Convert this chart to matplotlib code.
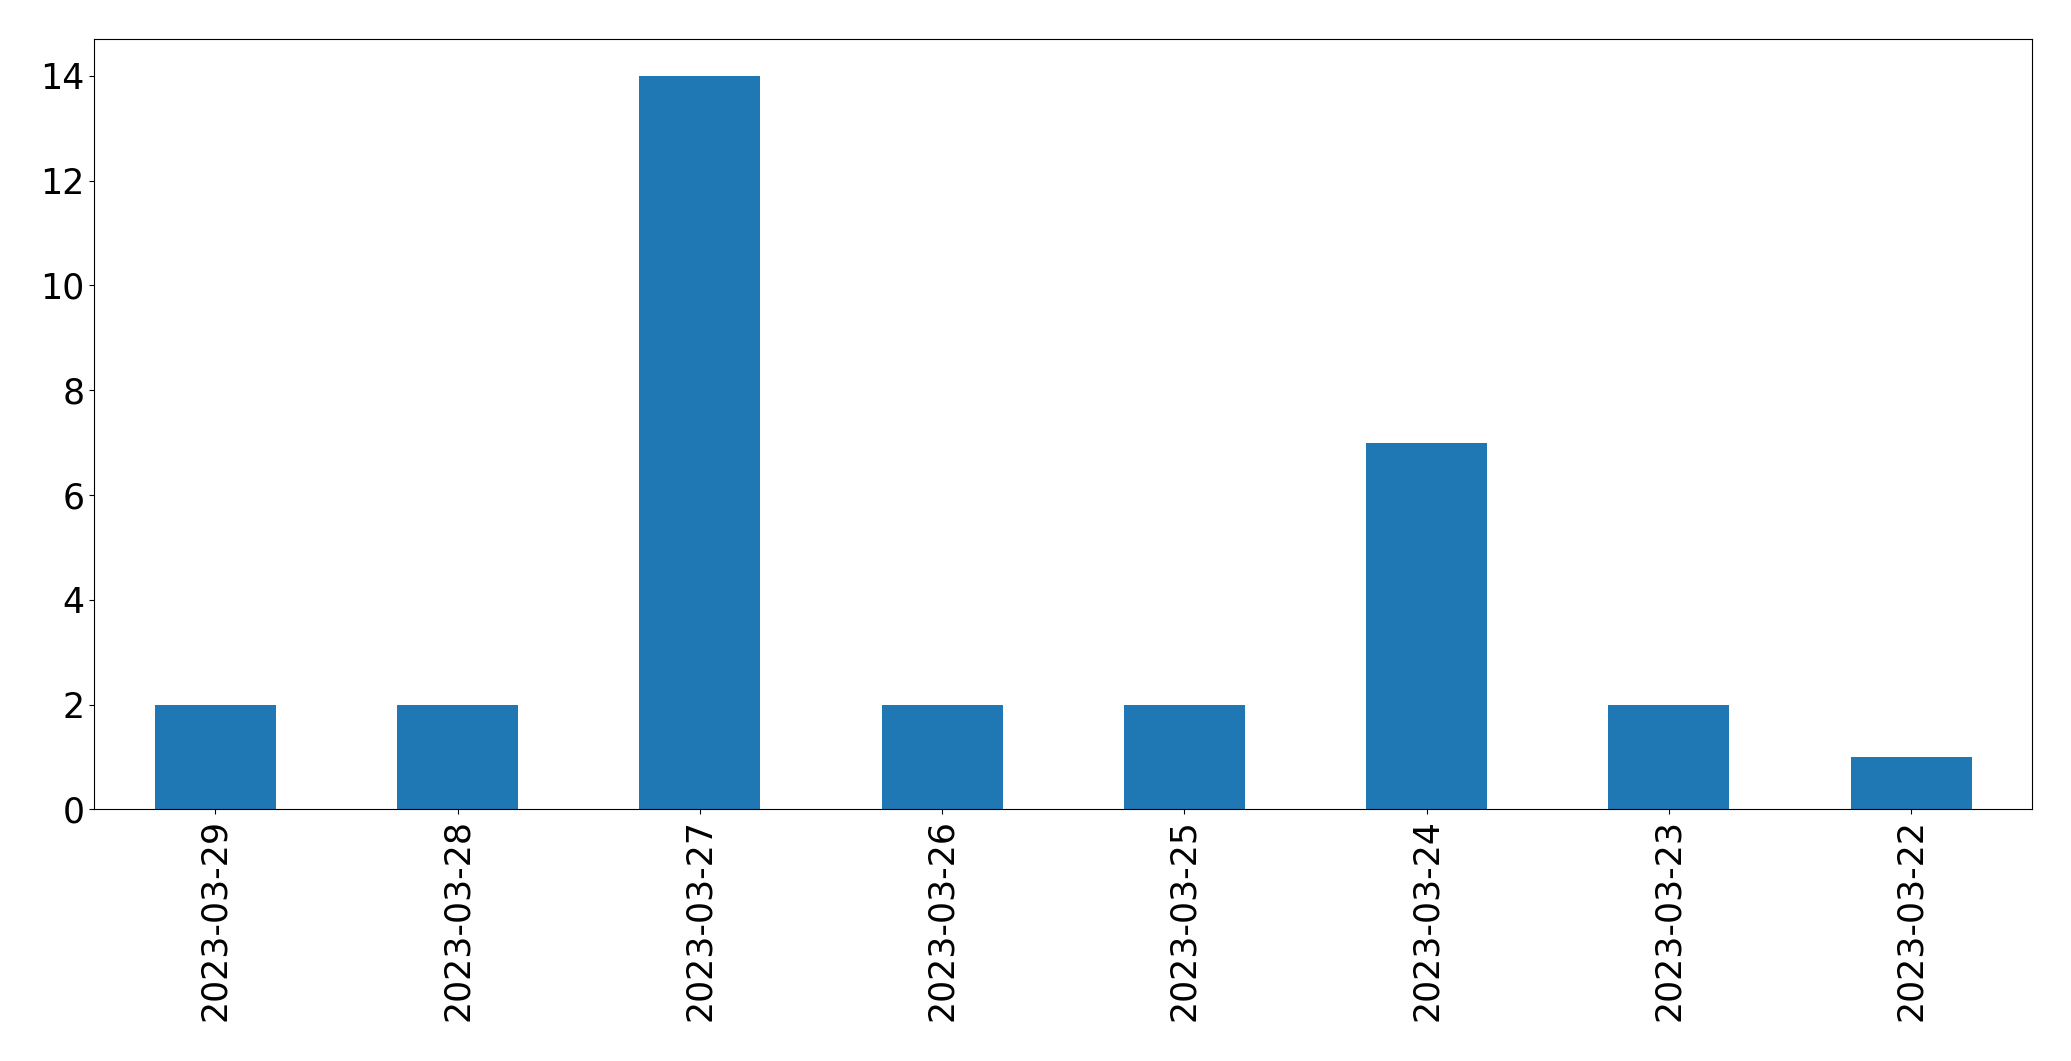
import matplotlib
matplotlib.use("Agg")
import matplotlib.pyplot as plt

dates = ["2023-03-29", "2023-03-28", "2023-03-27", "2023-03-26",
         "2023-03-25", "2023-03-24", "2023-03-23", "2023-03-22"]
counts = [2, 2, 14, 2, 2, 7, 2, 1]

W, H = 2071, 1061
fig = plt.figure(figsize=(W / 100, H / 100), dpi=100)
ax = fig.add_axes([94.3 / W, 1 - 809.3 / H, (2032.3 - 94.3) / W, (809.3 - 39.3) / H])

x = list(range(len(dates)))
ax.bar(x, counts, width=0.5, color="#1f77b4")
ax.set_xlim(-0.5, len(dates) - 0.5)
ax.set_ylim(0, max(counts) * 1.05)
ax.set_xticks(x)
ax.set_xticklabels(dates, rotation=90)
ax.set_yticks(range(0, 15, 2))
ax.tick_params(axis="both", labelsize=25)

fig.savefig("out.png", dpi=100)
